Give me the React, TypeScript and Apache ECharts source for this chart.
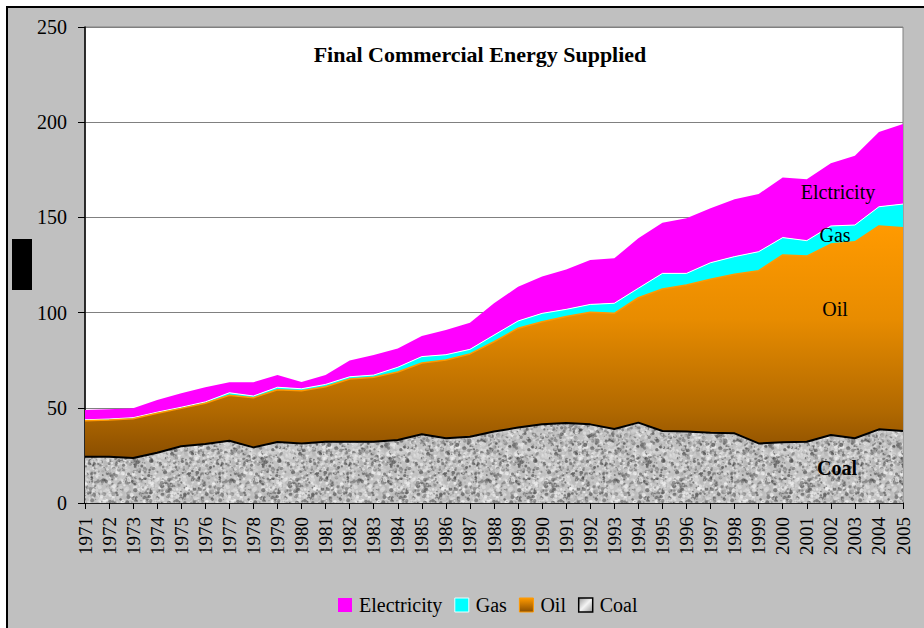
import React, { useEffect, useRef } from 'react';
import * as echarts from 'echarts';

const years = [
  '1971', '1972', '1973', '1974', '1975', '1976', '1977', '1978', '1979', '1980',
  '1981', '1982', '1983', '1984', '1985', '1986', '1987', '1988', '1989', '1990',
  '1991', '1992', '1993', '1994', '1995', '1996', '1997', '1998', '1999', '2000',
  '2001', '2002', '2003', '2004', '2005',
];

const coal = [
  24.3, 24.3, 23.6, 26.4, 29.8, 31.0, 32.7, 29.2, 32.0, 31.3,
  32.2, 32.2, 32.2, 33.1, 36.1, 34.0, 34.8, 37.5, 39.6, 41.3,
  42.0, 41.3, 38.9, 42.2, 37.8, 37.5, 36.9, 36.6, 31.3, 31.9,
  32.2, 35.7, 34.0, 38.7, 37.8,
];

const oil = [
  18.9, 19.3, 20.7, 20.7, 19.9, 21.4, 23.9, 26.1, 27.5, 27.6,
  28.9, 32.9, 33.8, 35.7, 37.4, 41.1, 43.5, 47.2, 52.2, 53.9,
  55.9, 58.9, 60.7, 65.6, 74.6, 77.0, 80.6, 83.5, 90.7, 98.4,
  97.5, 100.3, 103.2, 106.8, 106.8,
];

const gas = [
  0.5, 0.5, 0.5, 0.6, 0.6, 0.7, 1.3, 0.9, 1.3, 1.1,
  1.2, 1.2, 1.2, 2.5, 3.4, 2.8, 2.4, 3.5, 3.8, 4.4,
  3.8, 4.1, 5.3, 5.0, 8.2, 6.1, 8.7, 9.3, 10.0, 9.1,
  8.1, 9.5, 8.8, 10.1, 12.4,
];

const electricity = [
  5.1, 5.1, 4.9, 6.4, 7.3, 7.7, 5.5, 7.2, 6.4, 3.6,
  4.9, 8.5, 10.5, 9.9, 10.8, 13.0, 14.0, 16.7, 18.0, 19.3,
  21.0, 23.3, 23.6, 26.2, 26.6, 28.9, 28.6, 30.1, 30.3, 31.5,
  32.2, 32.9, 36.4, 39.3, 42.1,
];

const seriesNames = ['Electricity', 'Gas', 'Oil', 'Coal'];
const chartTitle = 'Final Commercial Energy Supplied';
const areaLabels = ['Elctricity', 'Gas', 'Oil', 'Coal'];

const FONT = '"Liberation Serif", "Times New Roman", serif';

function makeGranite(): HTMLCanvasElement {
  const size = 128;
  const raw = document.createElement('canvas');
  raw.width = size;
  raw.height = size;
  const ctx = raw.getContext('2d')!;
  ctx.fillStyle = '#c2c2c2';
  ctx.fillRect(0, 0, size, size);
  let s = 20240611;
  const rnd = () => {
    s = (Math.imul(s, 1103515245) + 12345) >>> 0;
    return s / 4294967296;
  };
  for (let i = 0; i < 4200; i++) {
    const x = rnd() * size;
    const y = rnd() * size;
    const r = 0.6 + rnd() * 1.5;
    const v = rnd();
    const g = v < 0.3 ? Math.floor(60 + rnd() * 70) : Math.floor(175 + rnd() * 75);
    ctx.fillStyle = `rgba(${g},${g},${g},0.6)`;
    for (const dx of [-size, 0, size]) {
      for (const dy of [-size, 0, size]) {
        ctx.beginPath();
        ctx.arc(x + dx, y + dy, r, 0, Math.PI * 2);
        ctx.fill();
      }
    }
  }
  const out = document.createElement('canvas');
  out.width = size;
  out.height = size;
  const octx = out.getContext('2d')!;
  octx.filter = 'blur(0.6px)';
  for (const dx of [-size, 0, size]) {
    for (const dy of [-size, 0, size]) {
      octx.drawImage(raw, dx, dy);
    }
  }
  return out;
}

export default function App() {
  const ref = useRef<HTMLDivElement>(null);

  useEffect(() => {
    if (!ref.current) return;
    const chart = echarts.init(ref.current, undefined, { renderer: 'svg' });
    const granite = makeGranite();

    const oilGradient = new echarts.graphic.LinearGradient(0, 0, 0, 1, [
      { offset: 0, color: '#FF9A00' },
      { offset: 0.4, color: '#E88C00' },
      { offset: 0.8, color: '#B06800' },
      { offset: 1, color: '#8A4E00' },
    ]);
    const oilIcon = new echarts.graphic.LinearGradient(0, 0, 0, 1, [
      { offset: 0, color: '#FF9A00' },
      { offset: 1, color: '#8A4E00' },
    ]);
    const coalIcon = new echarts.graphic.LinearGradient(0, 0, 1, 1, [
      { offset: 0, color: '#9a9a9a' },
      { offset: 0.5, color: '#f4f4f4' },
      { offset: 1, color: '#9a9a9a' },
    ]);

    const option: any = {
      animation: false,
      backgroundColor: '#ffffff',
      textStyle: { fontFamily: FONT },
      graphic: [
        {
          type: 'rect',
          z: -10,
          silent: true,
          shape: { x: 7, y: 7, width: 940, height: 640 },
          style: { fill: '#c0c0c0', stroke: '#000', lineWidth: 2 },
        },
        {
          type: 'rect',
          z: -5,
          silent: true,
          shape: { x: 12, y: 239, width: 20, height: 51 },
          style: { fill: '#000' },
        },
        {
          type: 'text',
          z: 100,
          x: 480,
          y: 54,
          style: {
            text: chartTitle,
            font: `bold 22px ${FONT}`,
            fill: '#000',
            textAlign: 'center',
            textVerticalAlign: 'middle',
          },
        },
        {
          type: 'text', z: 100, x: 838, y: 192,
          style: { text: areaLabels[0], font: `20px ${FONT}`, fill: '#000', textAlign: 'center', textVerticalAlign: 'middle' },
        },
        {
          type: 'text', z: 100, x: 835, y: 235,
          style: { text: areaLabels[1], font: `20px ${FONT}`, fill: '#000', textAlign: 'center', textVerticalAlign: 'middle' },
        },
        {
          type: 'text', z: 100, x: 835, y: 309,
          style: { text: areaLabels[2], font: `20px ${FONT}`, fill: '#000', textAlign: 'center', textVerticalAlign: 'middle' },
        },
        {
          type: 'text', z: 100, x: 837, y: 468,
          style: { text: areaLabels[3], font: `bold 20px ${FONT}`, fill: '#000', textAlign: 'center', textVerticalAlign: 'middle' },
        },
      ],
      grid: {
        left: 85,
        top: 27,
        width: 818,
        height: 476,
        show: true,
        backgroundColor: '#ffffff',
        borderColor: '#808080',
        borderWidth: 1,
      },
      legend: {
        left: 333,
        top: 590,
        itemWidth: 14,
        itemHeight: 14,
        itemGap: 12,
        icon: 'rect',
        textStyle: { fontSize: 20, color: '#000', fontFamily: FONT, padding: [0, 0, 0, 2] },
        data: [
          { name: seriesNames[0], itemStyle: { color: '#FF00FF' } },
          { name: seriesNames[1], itemStyle: { color: '#00FFFF', borderColor: '#E8FFFF', borderWidth: 1 } },
          { name: seriesNames[2], itemStyle: { color: oilIcon, borderColor: '#FF9900', borderWidth: 1 } },
          { name: seriesNames[3], itemStyle: { color: coalIcon, borderColor: '#000', borderWidth: 1.5 } },
        ],
      },
      xAxis: {
        type: 'category',
        data: years,
        boundaryGap: false,
        axisLine: { lineStyle: { color: '#000', width: 1.5 } },
        axisTick: { show: true, length: 6, lineStyle: { color: '#000' } },
        axisLabel: { rotate: 90, interval: 0, fontSize: 19, color: '#000', fontFamily: FONT, margin: 14 },
        splitLine: { show: false },
      },
      yAxis: {
        type: 'value',
        min: 0,
        max: 250,
        interval: 50,
        axisLine: { show: true, lineStyle: { color: '#000', width: 1.5 } },
        axisTick: { show: true, length: 7, lineStyle: { color: '#000' } },
        axisLabel: { fontSize: 20, color: '#000', fontFamily: FONT, margin: 18 },
        splitLine: { show: true, lineStyle: { color: '#808080', width: 1 } },
      },
      series: [
        {
          name: seriesNames[3],
          type: 'line',
          stack: 'total',
          data: coal,
          symbol: 'none',
          z: 5,
          lineStyle: { color: '#000', width: 2 },
          itemStyle: { color: '#bbbbbb' },
          areaStyle: {
            color: { image: granite, repeat: 'repeat', imageWidth: 128, imageHeight: 128 },
            opacity: 1,
          },
        },
        {
          name: seriesNames[2],
          type: 'line',
          stack: 'total',
          data: oil,
          symbol: 'none',
          z: 4,
          lineStyle: { color: '#FF9900', width: 1.5 },
          itemStyle: { color: '#FF9900' },
          areaStyle: { color: oilGradient, opacity: 1 },
        },
        {
          name: seriesNames[1],
          type: 'line',
          stack: 'total',
          data: gas,
          symbol: 'none',
          z: 3,
          lineStyle: { color: '#ffffff', width: 1 },
          itemStyle: { color: '#00FFFF' },
          areaStyle: { color: '#00FFFF', opacity: 1 },
        },
        {
          name: seriesNames[0],
          type: 'line',
          stack: 'total',
          data: electricity,
          symbol: 'none',
          z: 2,
          lineStyle: { width: 0, color: '#FF00FF' },
          itemStyle: { color: '#FF00FF' },
          areaStyle: { color: '#FF00FF', opacity: 1 },
        },
      ],
    };

    chart.setOption(option);
    return () => {
      chart.dispose();
    };
  }, []);

  return (
    <div
      ref={ref}
      style={{ position: 'fixed', left: 0, top: 0, width: 924, height: 628, background: '#fff' }}
    />
  );
}
